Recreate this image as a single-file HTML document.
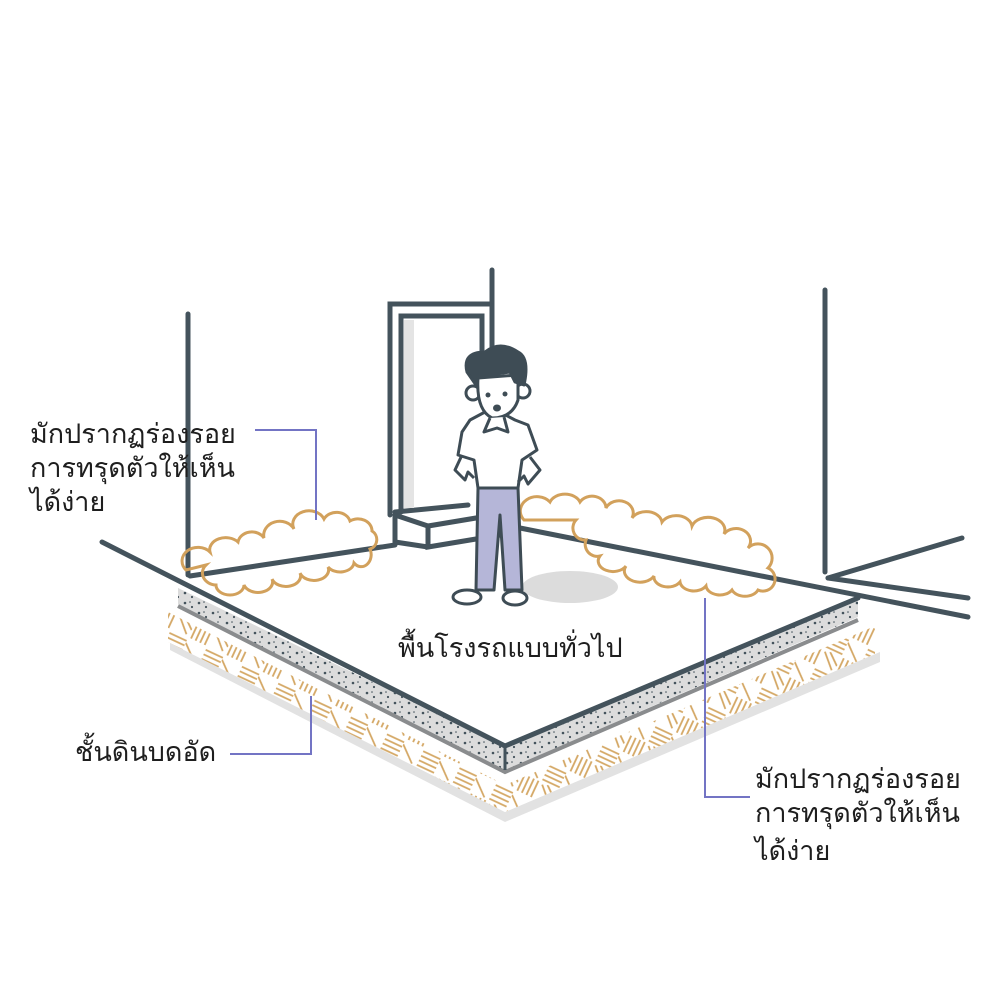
<!DOCTYPE html>
<html><head><meta charset="utf-8"><style>
html,body{margin:0;padding:0;background:#fff;}
svg{display:block}
text{font-family:"Liberation Sans","Noto Sans CJK SC",sans-serif;fill:#1e1e1e;font-size:27px}
</style></head><body>
<svg width="1000" height="1000" viewBox="0 0 1000 1000" xmlns="http://www.w3.org/2000/svg">
<defs>
<pattern id="hatch" width="40" height="40" patternUnits="userSpaceOnUse" patternTransform="rotate(25)">
<rect width="40" height="40" fill="#fff"/>
<path d="M3 0v18M8 0v18M13 0v18M18 0v18M21 22h19M21 27h19M21 32h19M21 37h19M0 24l16 14M23 2l14 14M28 0l12 10" stroke="#d4a764" stroke-width="1.8"/>
</pattern>
<pattern id="dots" width="14" height="10" patternUnits="userSpaceOnUse">
<rect width="14" height="10" fill="#dcdcdc"/>
<circle cx="3" cy="3" r="1.3" fill="#44535c"/><circle cx="10" cy="7" r="1.1" fill="#44535c"/><circle cx="8" cy="2" r="0.8" fill="#44535c"/>
</pattern>
</defs>
<polygon points="170,640 505,812 880,652 880,662 505,822 170,650" fill="#e2e2e2"/>
<polygon points="168,612 505,785 875,626 875,654 505,812 168,642" fill="url(#hatch)"/>
<polygon points="178,588 505,746 858,598 858,617 505,770 178,604" fill="url(#dots)"/>
<polyline points="178,606 505,772 858,620" fill="none" stroke="#8a8c8e" stroke-width="4"/>
<line x1="505" y1="746" x2="505" y2="770" stroke="#44535c" stroke-width="3"/>
<polyline points="102,542 505,746 858,598" fill="none" stroke="#44535c" stroke-width="5" stroke-linecap="round"/>
<g stroke="#44535c" stroke-width="5" stroke-linecap="round" fill="none">
<line x1="188" y1="314" x2="188" y2="575"/>
<line x1="190" y1="576" x2="395" y2="545"/>
<line x1="825" y1="290" x2="825" y2="572"/>
<line x1="492" y1="270" x2="492" y2="352"/>
<line x1="520" y1="528" x2="968" y2="617"/>
<line x1="828" y1="578" x2="968" y2="598"/>
<line x1="828" y1="578" x2="962" y2="538"/>
<polyline points="390,515 390,304 490,304"/>
<polyline points="401,512 401,316 482,316 482,360"/>
<polyline points="395,512 468,505"/>
<polyline points="395,515 428,526 500,514"/>
<polyline points="428,526 428,547 500,535"/>
<line x1="395" y1="515" x2="395" y2="542"/>
<line x1="395" y1="542" x2="428" y2="547"/>
</g>
<rect x="404" y="320" width="10" height="188" fill="#e4e4e4"/>
<g fill="none" stroke="#d2a15c" stroke-width="3">
<path d="M186,570 a14,12 0 0 1 24,-18 a16,12 0 0 1 28,-10 a14,12 0 0 1 26,-4 a16,14 0 0 1 30,-9 a16,13 0 0 1 30,-10 a14,12 0 0 1 26,2 a14,12 0 0 1 22,10 a10,10 0 0 1 -2,18 a10,12 0 0 1 -16,14 a14,10 0 0 1 -26,4 a14,10 0 0 1 -28,6 a14,10 0 0 1 -28,6 a14,10 0 0 1 -28,6 a14,10 0 0 1 -28,0 a14,12 0 0 1 -10,-20 z"/>
<path d="M524,520 a14,12 0 0 1 26,-18 a16,12 0 0 1 30,0 a14,12 0 0 1 26,6 a14,12 0 0 1 26,10 a16,12 0 0 1 30,4 a16,12 0 0 1 30,4 a16,12 0 0 1 32,8 a14,12 0 0 1 24,14 a12,12 0 0 1 20,20 a12,12 0 0 1 -10,22 a14,10 0 0 1 -26,0 a14,10 0 0 1 -26,-4 a14,10 0 0 1 -26,-4 a14,10 0 0 1 -26,-6 a14,10 0 0 1 -28,-10 a14,10 0 0 1 -26,-10 a12,12 0 0 1 -14,-16 a12,12 0 0 1 -10,-20 z"/>
</g>
<ellipse cx="570" cy="587" rx="48" ry="16" fill="#dcdcdc"/>
<g stroke="#3e4c55" stroke-width="3" stroke-linejoin="round">
<path d="M478,488 L476,590 L494,590 L500,515 L505,590 L522,590 L518,488 Z" fill="#b5b6d8"/>
<path d="M470,420 L485,412 L500,412 L515,420 L528,425 L537,450 L522,460 L518,488 L478,488 L474,460 L458,455 L462,432 Z" fill="#fff"/>
<path d="M462,455 L455,470 L465,480 L468,472 L474,478 M530,457 L540,470 L528,484 L524,476 L518,482" fill="none"/>
<ellipse cx="467" cy="597" rx="14" ry="7" fill="#fff"/>
<ellipse cx="515" cy="598" rx="12" ry="7" fill="#fff"/>
<circle cx="473" cy="393" r="7" fill="#fff"/>
<circle cx="523" cy="391" r="7" fill="#fff"/>
<path d="M478,378 Q476,410 492,418 Q512,418 518,400 L518,375 Z" fill="#fff"/>
<path d="M467,372 Q462,352 485,352 Q500,340 518,352 Q530,358 524,385 L515,382 L510,372 L490,375 L478,378 L476,385 Z" fill="#3e4c55"/>
<path d="M490,418 L484,432 L497,428 L508,432 L504,417" fill="#fff"/>
</g>
<circle cx="488" cy="395" r="2.5" fill="#3e4c55"/><circle cx="505" cy="394" r="2.5" fill="#3e4c55"/>
<ellipse cx="497" cy="408" rx="4" ry="3.5" fill="#3e4c55"/>
<g stroke="#7374c4" stroke-width="2" fill="none">
<polyline points="255,430 316,430 316,520"/>
<polyline points="705,598 705,797 750,797"/>
<polyline points="230,754 311,754 311,696"/>
</g>
<text x="30" y="443">มักปรากฏร่องรอย</text>
<text x="30" y="477">การทรุดตัวให้เห็น</text>
<text x="30" y="511">ได้ง่าย</text>
<text x="755" y="788">มักปรากฏร่องรอย</text>
<text x="755" y="822">การทรุดตัวให้เห็น</text>
<text x="755" y="860">ได้ง่าย</text>
<text x="75" y="761">ชั้นดินบดอัด</text>
<text x="398" y="657">พื้นโรงรถแบบทั่วไป</text>
</svg>
</body></html>
